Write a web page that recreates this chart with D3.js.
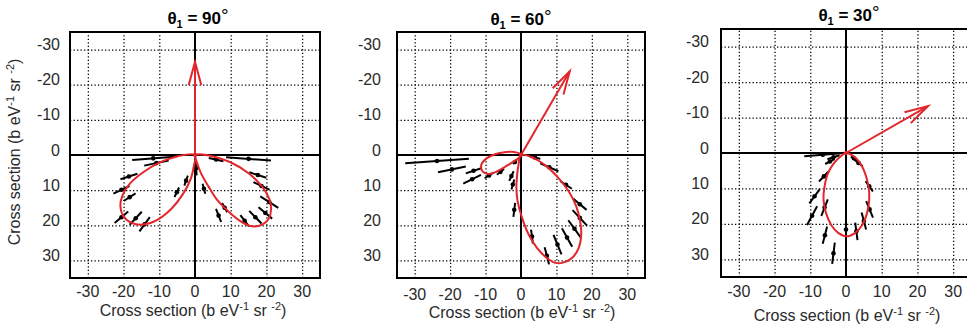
<!DOCTYPE html>
<html><head><meta charset="utf-8">
<script src="https://cdn.jsdelivr.net/npm/d3@7"></script>
<style>
body{margin:0;background:#fff;}
svg{display:block;font-family:"Liberation Sans",Arial,Helvetica,sans-serif;}
</style>
</head><body><svg width="967" height="331"></svg>
<script>
// ---- data ----
const theta1 = [90, 60, 30];                 // panel titles (degrees)
const arrowLength = [26.5, 27.5, 26.5];      // red vector length
const tickValues = [-30, -20, -10, 0, 10, 20, 30];
const tickLabels = ["-30", "-20", "-10", "0", "10", "20", "30"];

// red theory curves (x, y in cross-section units; +y drawn downward)
const lobe90RX = [0, 4.2, 9.8, 15.0, 18.8, 20.8, 21.3, 20.6, 18.8, 16.0, 13.0, 9.5, 6.2, 3.8, 1.6, 0.5];
const lobe90RY = [0, 0.2, 2.0, 5.2, 9.0, 12.5, 15.5, 18.2, 19.8, 20.3, 19.0, 16.2, 12.8, 9.0, 5.0, 2.0];
const lobe90LX = [0, -5.0, -9.8, -14.5, -18.3, -20.3, -20.9, -20.2, -17.8, -14.5, -10.8, -6.6, -3.3, -1.2, -0.3];
const lobe90LY = [0, 0.4, 2.1, 4.9, 8.2, 11.5, 14.4, 17.2, 19.3, 19.8, 18.6, 15.3, 11.0, 6.8, 3.0];

const lobe60BX = [0, 3.6, 7.3, 10.6, 13.5, 15.6, 16.7, 17.0, 16.3, 14.4, 11.6, 9.7, 7.3, 4.5, 2.2, 0.3, -0.95, -1.3, -1.1, -0.7];
const lobe60BY = [0, 0.9, 3.3, 6.6, 10.4, 14.6, 18.9, 22.7, 26.4, 29.3, 30.7, 30.7, 29.3, 26.4, 22.7, 17.9, 13.2, 9.4, 5.7, 2.8];
const lobe60SX = [0, -2.5, -6.3, -9.6, -11.2, -10.8, -9.1, -6.8, -4.4, -2.1];
const lobe60SY = [0, -0.9, -0.5, 0.9, 2.8, 4.7, 5.4, 4.7, 3.3, 1.9];

const lobe30X = [0, 2.1, 3.9, 5.3, 6.3, 6.5, 5.9, 4.5, 2.5, 0.2, -2.1, -4.1, -5.6, -6.3, -6.0, -5.0, -3.3, -1.2];
const lobe30Y = [0, 0.9, 2.8, 5.6, 9.4, 13.1, 16.9, 20.4, 22.6, 23.5, 22.6, 20.4, 16.9, 13.1, 9.4, 5.6, 2.8, 0.7];

// measured points (centre x, y) with radial error half-length
const pts90X = [-11.7, -10.8, -18.5, -20.6, -18.3, -5.1, -2.5, -20.6, -16.6, -14.1, 5.9, 15.0, 17.6, 18.6, 20.8, 19.7, 16.9, 13.9, 8.3, 6.6, 2.5, 0.3];
const pts90Y = [0.96, 2.3, 6.1, 9.9, 12.0, 10.6, 7.3, 17.7, 18.0, 19.7, 1.3, 1.1, 5.7, 8.8, 13.4, 16.5, 17.7, 18.7, 15.0, 17.2, 9.6, 3.8];
const pts90Err = [5.9, 3.5, 2.5, 2.5, 2.0, 1.5, 1.5, 2.5, 2.5, 2.5, 2.1, 6.3, 2.5, 2.5, 3.0, 2.5, 2.5, 2.0, 1.5, 2.0, 1.5, 2.0];

const pts60X = [-23.7, -19.5, -13.4, -13.8, -9.0, -5.8, -1.7, -2.7, -2.3, -1.9, 4.0, 8.0, 12.7, 16.6, 16.6, 15.1, 13.0, 10.3, 7.3, 3.1];
const pts60Y = [1.7, 4.1, 4.5, 6.9, 5.8, 4.8, 2.0, 6.0, 8.4, 15.6, 0.8, 3.5, 8.5, 14.0, 17.9, 21.0, 23.5, 25.5, 28.7, 23.2];
const pts60Err = [9.0, 4.0, 2.3, 2.8, 1.5, 1.3, 0.8, 1.5, 1.5, 2.0, 1.5, 2.8, 2.0, 2.5, 3.0, 3.0, 3.0, 3.0, 2.5, 2.0];

const pts30X = [-6.5, -3.5, -4.5, 2.2, 3.5, -6.2, -8.8, -6.0, -9.5, -5.9, -3.5, 6.5, 6.6, 5.0, 2.9, 0.0];
const pts30Y = [0.5, 1.2, 2.4, 1.5, 2.8, 6.6, 12.2, 15.4, 17.7, 23.2, 28.3, 9.4, 15.9, 19.2, 22.1, 21.6];
const pts30Err = [5.2, 1.8, 1.5, 1.0, 1.5, 2.0, 2.5, 2.5, 3.0, 2.5, 3.0, 1.8, 2.5, 2.5, 2.5, 0.6];

// ---- layout ----
const panels = [
  {theta: theta1[0], len: arrowLength[0], left: 70, top: 32, w: 250, h: 246,
   lobes: [[lobe90RX, lobe90RY], [lobe90LX, lobe90LY]], px: pts90X, py: pts90Y, pe: pts90Err,
   titleX: 198, titleY: 24, ylabRight: 60, xlabY: 297, xtitleX: 193, xtitleY: 316},
  {theta: theta1[1], len: arrowLength[1], left: 397, top: 32, w: 248, h: 246,
   lobes: [[lobe60BX, lobe60BY], [lobe60SX, lobe60SY]], px: pts60X, py: pts60Y, pe: pts60Err,
   titleX: 521, titleY: 25, ylabRight: 381, xlabY: 300, xtitleX: 522, xtitleY: 318},
  {theta: theta1[2], len: arrowLength[2], left: 721, top: 29, w: 250, h: 248,
   lobes: [[lobe30X, lobe30Y]], px: pts30X, py: pts30Y, pe: pts30Err,
   titleX: 849, titleY: 21, ylabRight: 709, xlabY: 297, xtitleX: 847, xtitleY: 321}
];

const svg = d3.select("svg");
const RED = "#e3262b";
const TXT = "#2a2a2a";

function xTitle(sel) {
  sel.append("tspan").text("Cross section (b eV");
  sel.append("tspan").attr("font-size", 11).attr("dy", -6).text("-1");
  sel.append("tspan").attr("dy", 6).text(" sr ");
  sel.append("tspan").attr("font-size", 11).attr("dy", -6).text("-2");
  sel.append("tspan").attr("dy", 6).text(")");
}

panels.forEach((p, i) => {
  const x = d3.scaleLinear().domain([-35, 35]).range([p.left, p.left + p.w]);
  const y = d3.scaleLinear().domain([-35, 35]).range([p.top, p.top + p.h]);
  const g = svg.append("g");

  const gridVals = tickValues.filter(v => v !== 0);
  g.append("g").attr("transform", `translate(0,${p.top + p.h})`)
    .call(d3.axisBottom(x).tickValues(gridVals).tickSize(-p.h).tickFormat(""))
    .call(s => s.select(".domain").remove())
    .call(s => s.selectAll("line").attr("stroke", "#000").attr("stroke-width", 1.3).attr("stroke-dasharray", "1.3,2.2"));
  g.append("g").attr("transform", `translate(${p.left},0)`)
    .call(d3.axisLeft(y).tickValues(gridVals).tickSize(-p.w).tickFormat(""))
    .call(s => s.select(".domain").remove())
    .call(s => s.selectAll("line").attr("stroke", "#000").attr("stroke-width", 1.3).attr("stroke-dasharray", "1.3,2.2"));

  g.append("line").attr("x1", x(0)).attr("x2", x(0)).attr("y1", p.top).attr("y2", p.top + p.h)
    .attr("stroke", "#000").attr("stroke-width", 2);
  g.append("line").attr("x1", p.left).attr("x2", p.left + p.w).attr("y1", y(0)).attr("y2", y(0))
    .attr("stroke", "#000").attr("stroke-width", 2);

  g.append("rect").attr("x", p.left).attr("y", p.top).attr("width", p.w).attr("height", p.h)
    .attr("fill", "none").attr("stroke", "#000").attr("stroke-width", 2);

  g.selectAll(".yl").data(tickValues).join("text")
    .attr("x", p.ylabRight).attr("y", d => y(d) + 0.5)
    .attr("text-anchor", "end").attr("font-size", 16).attr("fill", TXT)
    .text((d, k) => tickLabels[k]);
  g.selectAll(".xl").data(tickValues).join("text")
    .attr("x", d => x(d)).attr("y", p.xlabY)
    .attr("text-anchor", "middle").attr("font-size", 16).attr("fill", TXT)
    .text((d, k) => tickLabels[k]);

  g.append("text").attr("x", p.xtitleX).attr("y", p.xtitleY).attr("text-anchor", "middle")
    .attr("font-size", 16).attr("fill", TXT).call(xTitle);

  const t = g.append("text").attr("x", p.titleX).attr("y", p.titleY).attr("text-anchor", "middle")
    .attr("font-size", 17).attr("font-weight", "bold").attr("fill", "#000");
  t.append("tspan").text("θ");
  t.append("tspan").attr("font-size", 11).attr("dy", 4).text("1");
  t.append("tspan").attr("dy", -4).text(" = " + p.theta);
  t.append("tspan").attr("font-weight", "normal").attr("font-size", 19).attr("dy", -2).text("°");

  const pts = p.px.map((vx, k) => ({x: vx, y: p.py[k], e: p.pe[k]}));
  pts.forEach(d => {
    const r = Math.hypot(d.x, d.y) || 1;
    const ux = d.x / r, uy = d.y / r;
    g.append("line")
      .attr("x1", x(d.x - d.e * ux)).attr("y1", y(d.y - d.e * uy))
      .attr("x2", x(d.x + d.e * ux)).attr("y2", y(d.y + d.e * uy))
      .attr("stroke", "#000").attr("stroke-width", 2);
    g.append("circle").attr("cx", x(d.x)).attr("cy", y(d.y)).attr("r", 2.3).attr("fill", "#000");
  });

  const line = d3.line().x(d => x(d[0])).y(d => y(d[1])).curve(d3.curveCatmullRomClosed.alpha(0.5));
  p.lobes.forEach(([lx, ly]) => {
    g.append("path").attr("d", line(lx.map((v, k) => [v, ly[k]])))
      .attr("fill", "none").attr("stroke", RED).attr("stroke-width", 2);
  });

  const a = p.theta * Math.PI / 180;
  const tip = [p.len * Math.cos(a), -p.len * Math.sin(a)];
  const barb = 6.8, half = 15 * Math.PI / 180;
  const back = a + Math.PI;
  const b1 = [tip[0] + barb * Math.cos(back + half), tip[1] - barb * Math.sin(back + half)];
  const b2 = [tip[0] + barb * Math.cos(back - half), tip[1] - barb * Math.sin(back - half)];
  g.append("line").attr("x1", x(0)).attr("y1", y(0)).attr("x2", x(tip[0])).attr("y2", y(tip[1]))
    .attr("stroke", RED).attr("stroke-width", 2);
  g.append("path").attr("d", d3.line()([[x(b1[0]), y(b1[1])], [x(tip[0]), y(tip[1])], [x(b2[0]), y(b2[1])]]))
    .attr("fill", "none").attr("stroke", RED).attr("stroke-width", 2);
  g.append("circle").attr("cx", x(0)).attr("cy", y(0)).attr("r", 2).attr("fill", RED);
});

const yt = svg.append("text").attr("transform", "translate(20,152) rotate(-90)")
  .attr("text-anchor", "middle").attr("font-size", 16).attr("fill", TXT);
xTitle(yt);
</script>
</body></html>
